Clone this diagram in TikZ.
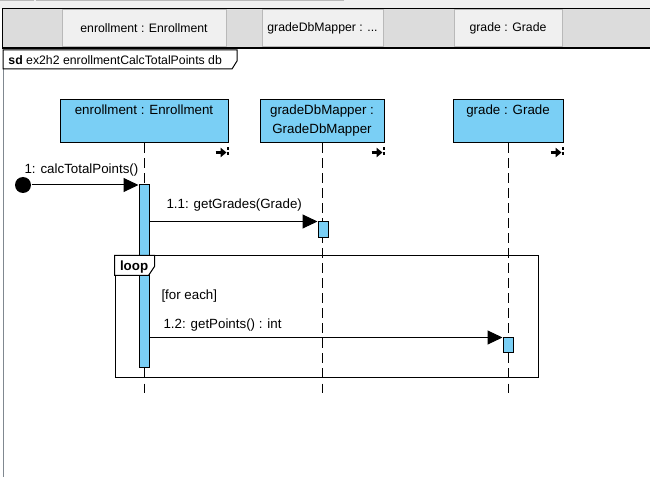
\documentclass[tikz,border=0pt]{standalone}
\usepackage{fontspec}
\setmainfont{Liberation Sans}
\usetikzlibrary{positioning,arrows.meta}
\definecolor{lifeblue}{RGB}{122,207,245}
\definecolor{barbg}{RGB}{220,220,220}
\definecolor{tabbg}{RGB}{240,240,240}
\definecolor{tabline}{RGB}{185,185,185}
\definecolor{framegray}{RGB}{128,136,144}
\tikzset{
  life box/.style={
    draw, fill=lifeblue,
    minimum width={#1},
    minimum height=32.25pt,
    inner sep=0pt,
  },
  box title/.style={
    anchor=north, align=center, inner sep=0pt,
    font=\fontsize{10}{14.25}\selectfont,
  },
  act bar/.style={
    draw, fill=lifeblue,
    minimum width=7.5pt,
    minimum height={#1},
    inner sep=0pt,
  },
  lifeline/.style={
    dash pattern=on 7.5pt off 3.75pt,
  },
  msg/.style={
    -{Triangle[length=11.25pt,width=10.5pt]},
  },
  msg label/.style={
    anchor=base west, inner sep=0pt,
    font=\fontsize{10}{12}\selectfont,
  },
  tab/.style={
    draw=tabline, fill=tabbg,
    minimum width={#1},
    minimum height=27.75pt,
    inner sep=0pt,
    font=\fontsize{9.2}{11}\selectfont,
  },
}

\begin{document}
\begin{tikzpicture}[x=0.75pt, y=-0.75pt, line width=0.75pt]
        \useasboundingbox (0,0) rectangle (650,477);
        \fill[white] (0,0) rectangle (650,477);

        % tool bar and lifeline tabs
        \fill[tabbg] (0,0) rectangle (650,9);
        \draw[tabline] (0,1) -- (33,1) -- (33,0) (36,0) -- (36,1) -- (343,1) -- (343,0);
        \fill[barbg] (2,9) rectangle (650,49);
        \draw (2,49) -- (2,9) -- (650,9);
        \draw[line width=1.5pt] (2,48) -- (650,48);
        \node [tab=123pt] (tab1) at (144,28.5) {enrollment : Enrollment};
        \node [tab=90.75pt] (tab2) at (322.5,28.5) {gradeDbMapper : ...};
        \node [tab=81pt] (tab3) at (508,28.5) {grade : Grade};

        % sd frame
        \draw[framegray] (3,69) -- (3,477);
        \draw[fill=white] (3,50) -- (237,50) -- (237,61) -- (232,69) -- (3,69) -- cycle;
        \node [msg label, font=\fontsize{9.2}{11}\selectfont] (sd) at (8,65)
          {\textbf{sd} ex2h2 enrollmentCalcTotalPoints db};

        % lifelines
        \node [life box=126pt] (enr) at (144,121.5) {};
        \node [life box=93pt] (mapper) at (322,121.5) {};
        \node [life box=82.5pt] (grade) at (508,121.5) {};
        \node [box title] at ([shift={(0,5)}]enr.north) {enrollment : Enrollment};
        \node [box title] at ([shift={(0,5)}]mapper.north) {gradeDbMapper :\\GradeDbMapper};
        \node [box title] at ([shift={(0,5)}]grade.north) {grade : Grade};

        \foreach \b in {enr,mapper,grade} {
          \coordinate (\b end) at (\b.south |- 0,393);
          \draw[lifeline] (\b.south) -- (\b end);
          \draw[line width=2.25pt, -{Triangle[length=4.5pt,width=7pt]}]
            ([shift={(-13,9)}]\b.south east) -- ++(11,0);
          \draw[line width=1.5pt, dash pattern=on 2.25pt off 1.5pt]
            ([shift={(-1,4)}]\b.south east) -- ++(0,10);
        }

        % activations
        \node [act bar=137.25pt] (act1) at (144,276.5) {};
        \node [act bar=12pt] (act2) at (323,230) {};
        \node [act bar=11.25pt] (act3) at (508,345.5) {};

        % loop fragment
        \node [draw, minimum width=317.25pt, minimum height=91.5pt, inner sep=0pt] (loop) at (326.5,317) {};
        \draw[fill=white] (loop.north west) -- ++(40,0) -- ++(0,11) -- ++(-6,9) -- ++(-34,0) -- cycle;
        \node [msg label, font=\bfseries\fontsize{10}{12}\selectfont] (loop tag) at ([shift={(5,15)}]loop.north west) {loop};
        \node [msg label] (guard) at (161,300) {[for each]};

        % messages
        \node [circle, fill, inner sep=0pt, minimum size=12pt] (found) at (23,185) {};
        \draw[msg] (found) -- (found -| act1.west);
        \node [msg label] (m1) at (24,174) {1: calcTotalPoints()};
        \draw[msg] (act1.east |- act2.north) -- (act2.north west);
        \node [msg label] (m11) at (166,209) {1.1: getGrades(Grade)};
        \draw[msg] (act1.east |- act3.north) -- (act3.north west);
        \node [msg label] (m12) at (163,329) {1.2: getPoints() : int};
      \end{tikzpicture}
\end{document}
